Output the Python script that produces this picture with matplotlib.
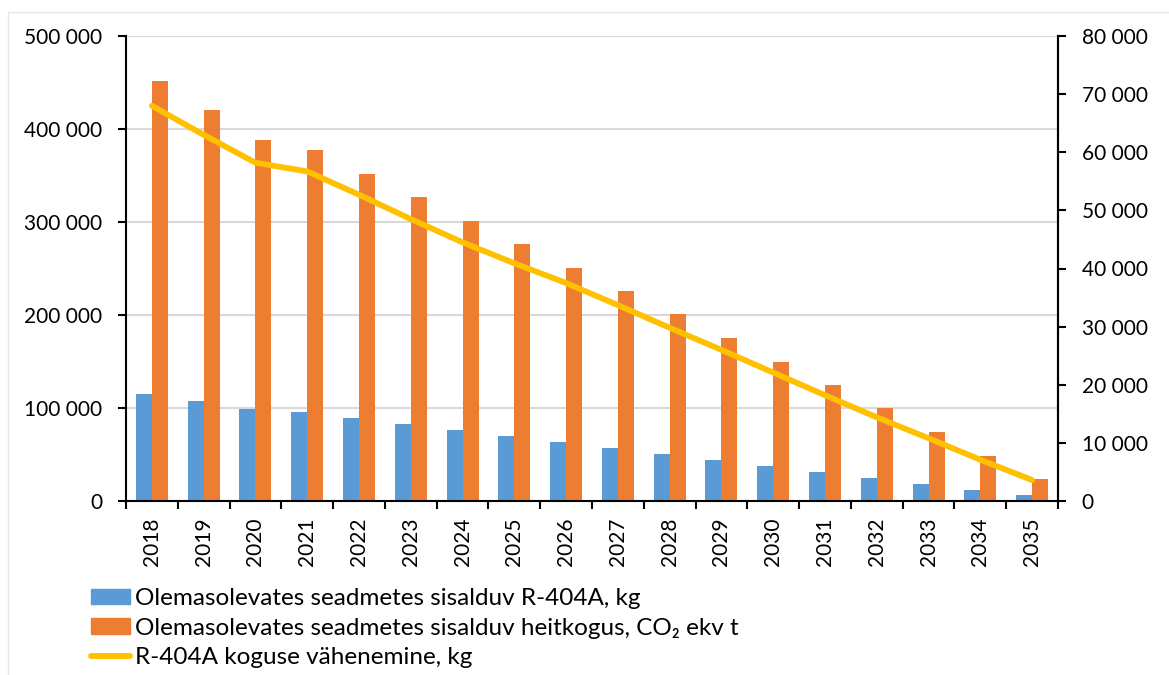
import matplotlib
matplotlib.use("Agg")
import matplotlib.pyplot as plt
from matplotlib.ticker import FixedLocator, FuncFormatter
from matplotlib.lines import Line2D
from matplotlib.patches import Patch
import numpy as np

plt.rcParams['font.family'] = ['Lato', 'DejaVu Sans']

years = [str(y) for y in range(2018, 2036)]
r404a_kg = [115000, 107000, 98500, 96000, 89500, 83000, 76500, 70000, 63500,
            57000, 51000, 44000, 38000, 31500, 25000, 18500, 12000, 6000]
co2_t = [452000, 420000, 388000, 377000, 352000, 326500, 301000, 276000, 251000,
         225500, 200800, 175000, 150000, 124700, 99700, 74600, 48800, 24000]
reduction_kg = [68000, 63000, 58200, 56700, 52700, 48500, 44500, 40900, 37500,
                33700, 29800, 26000, 22100, 18200, 14400, 10800, 7100, 3600]

labels = ["Olemasolevates seadmetes sisalduv R-404A, kg",
          "Olemasolevates seadmetes sisalduv heitkogus, CO\u2082 ekv t",
          "R-404A koguse vähenemine, kg"]

BLUE = "#5B9BD5"
ORANGE = "#ED7D31"
GOLD = "#FFC000"
GRID = "#D9D9D9"

W, H = 1169, 675
fig = plt.figure(figsize=(W / 100, H / 100), dpi=100)

# light outer frame of the chart area
fig.add_artist(Line2D([8 / W, 8 / W], [0, 1 - 12 / H], transform=fig.transFigure,
                      color="#E6E6E6", lw=1))
fig.add_artist(Line2D([8 / W, 1], [1 - 12 / H, 1 - 12 / H], transform=fig.transFigure,
                      color="#E6E6E6", lw=1))

left, right, top, bottom = 126, 1058, 36, 501
ax = fig.add_axes([left / W, 1 - bottom / H, (right - left) / W, (bottom - top) / H])
ax2 = ax.twinx()

x = np.arange(len(years))
bw = 0.31
ax.bar(x - bw / 2, r404a_kg, width=bw, color=BLUE, zorder=2)
ax.bar(x + bw / 2, co2_t, width=bw, color=ORANGE, zorder=2)
ax2.plot(x, reduction_kg, color=GOLD, lw=4.2, solid_capstyle="round", zorder=3)

ax.set_xlim(-0.5, len(years) - 0.5)
ax.set_ylim(0, 500000)
ax2.set_ylim(0, 80000)

fmt = FuncFormatter(lambda v, p: f"{int(v):,}".replace(",", " "))
ax.yaxis.set_major_locator(FixedLocator(np.arange(0, 500001, 100000)))
ax.yaxis.set_major_formatter(fmt)
ax2.yaxis.set_major_locator(FixedLocator(np.arange(0, 80001, 10000)))
ax2.yaxis.set_major_formatter(fmt)

ax.set_xticks(x)
ax.set_xticklabels(years, rotation=90)
ax.set_xticks(np.arange(-0.5, len(years), 1.0), minor=True)
ax.tick_params(axis="x", which="major", length=0, pad=12, labelsize=15)
ax.tick_params(axis="x", which="minor", length=6, width=1.5, direction="out")
ax.tick_params(axis="y", length=6, width=1.5, pad=11, labelsize=15)
ax2.tick_params(axis="y", length=6, width=1.5, pad=11, labelsize=15)

ax.grid(axis="y", color=GRID, lw=1.5, zorder=0)
ax.set_axisbelow(True)

for a in (ax, ax2):
    a.spines["top"].set_visible(False)
    for s in ("left", "right", "bottom"):
        a.spines[s].set_linewidth(1.5)
        a.spines[s].set_color("black")
ax2.spines["left"].set_visible(False)
ax2.spines["bottom"].set_visible(False)

handles = [Patch(color=BLUE), Patch(color=ORANGE),
           Line2D([], [], color=GOLD, lw=4.2, solid_capstyle="round")]
fig.legend(handles, labels, loc="upper left",
           bbox_to_anchor=(91 / W, 1 - 588 / H), frameon=False, fontsize=17.5,
           handlelength=1.6, handleheight=0.6, handletextpad=0.2,
           labelspacing=0.36, borderpad=0, borderaxespad=0)

fig.savefig("out.png", dpi=100, facecolor="white")
